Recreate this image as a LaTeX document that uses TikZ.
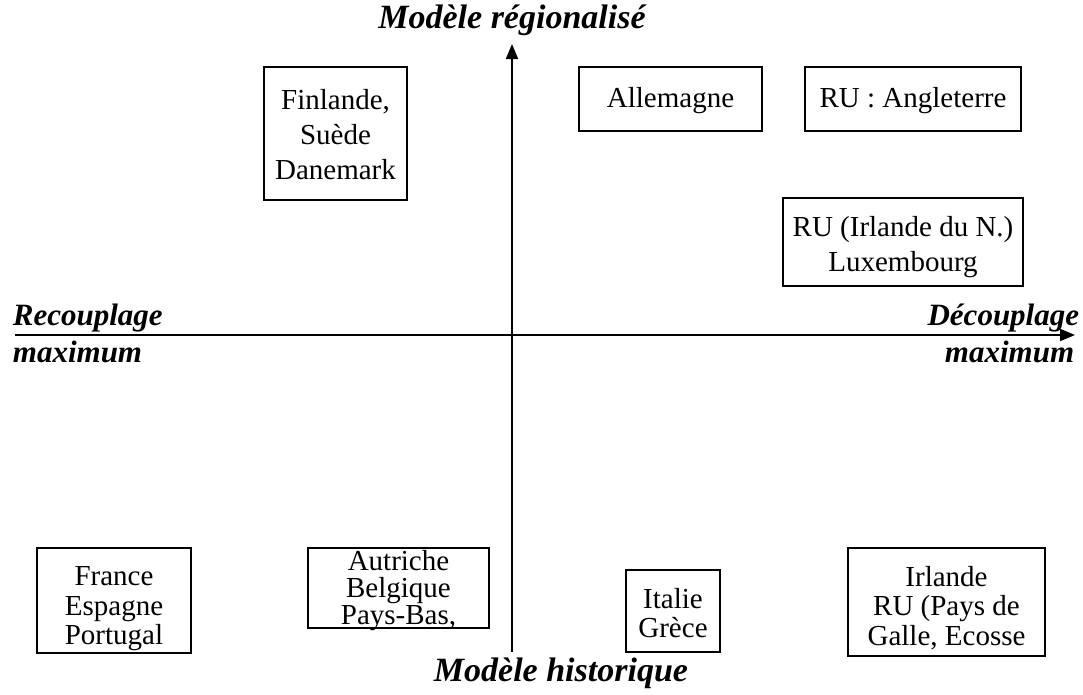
\documentclass[tikz,border=0pt]{standalone}
\usepackage{fontspec}
\setmainfont{Liberation Serif}
\usetikzlibrary{positioning,arrows.meta}
\tikzset{
  pays/.style={draw,line width=1.8pt,inner sep=0pt},
  texte/.style={align=center,inner sep=0pt,font=\fontsize{29}{35}\selectfont},
  textebas/.style={texte,font=\fontsize{29}{29.5}\selectfont},
  axe/.style={font=\fontsize{31}{36}\selectfont\bfseries\itshape,inner sep=0pt},
  axemod/.style={axe,font=\fontsize{34}{38}\selectfont\bfseries\itshape},
}

\begin{document}
\begin{tikzpicture}[x=1pt,y=-1pt,line width=1.8pt]
  \useasboundingbox (0,0) rectangle (1083,694);
  % ===== axes =====
  \coordinate (bas) at (512,652);  \coordinate (haut) at (512,44);
  \coordinate (gauche) at (15,335); \coordinate (droite) at (1075,335);
  \draw[-{Triangle[length=15pt,width=12pt]}] (bas)--(haut);
  \draw[-{Triangle[length=15pt,width=12pt]}] (gauche)--(droite);
  \node[axemod,anchor=base] (regio) at (512,28){Modèle régionalisé};
  \node[axemod] (histo) at (561,673){Modèle historique};
  \node[axe,anchor=west] (recoup) at (12,318){Recouplage};
  \node[axe,anchor=west] (recmax) at (12,352){maximum};
  \node[axe,anchor=east] (decoup) at (1080,318){Découplage};
  \node[axe,anchor=east] (decmax) at (1075,352){maximum};

  % ===== quadrant haut =====
  \node[pays,minimum width=143pt,minimum height=133pt] (fin) at (335.5,133.5){};
  \node[texte] (fintx) at (335.5,135){Finlande,\\Suède\\Danemark};
  \node[pays,minimum width=183pt,minimum height=64pt] (all) at (670.5,99){};
  \node[texte] (alltx) at (670.5,101){Allemagne};
  \node[pays,minimum width=216pt,minimum height=64pt] (ang) at (913,99){};
  \node[texte] (angtx) at (913,101){RU : Angleterre};
  \node[pays,minimum width=240pt,minimum height=88pt] (irn) at (903,242){};
  \node[texte] (irntx) at (903,247){RU (Irlande du N.)\\Luxembourg};

  % ===== quadrant bas =====
  \node[pays,minimum width=154pt,minimum height=105pt] (fra) at (114,600.5){};
  \node[textebas] (fratx) at (114,609){France\\Espagne\\Portugal};
  \node[pays,minimum width=181pt,minimum height=80pt] (aut) at (398.5,588){};
  \node[textebas,font=\fontsize{29}{27}\selectfont] (auttx) at (398.5,591){Autriche\\Belgique\\Pays-Bas,};
  \node[pays,minimum width=94pt,minimum height=82pt] (ita) at (673,611){};
  \node[textebas] (itatx) at (673,613){Italie\\Grèce};
  \node[pays,minimum width=197pt,minimum height=108pt] (irl) at (946.5,602){};
  \node[textebas] (irltx) at (946.5,608){Irlande\\RU (Pays de\\Galle, Ecosse};
\end{tikzpicture}
\end{document}
